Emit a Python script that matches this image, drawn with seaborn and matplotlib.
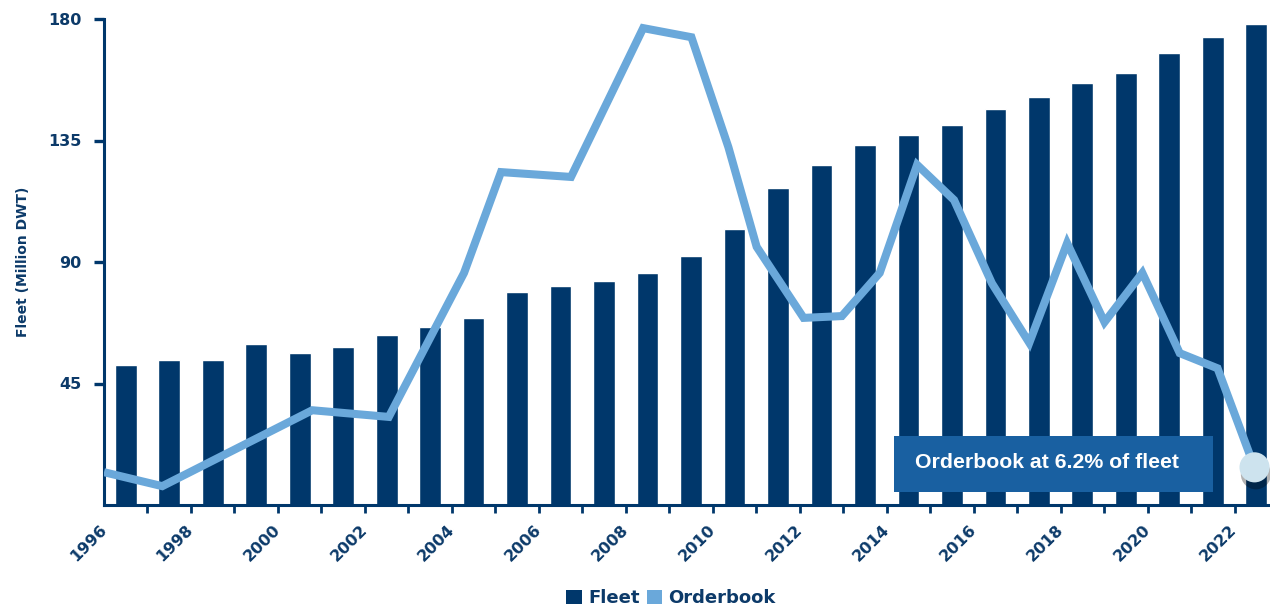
import numpy as np
import matplotlib
matplotlib.use("Agg")
import matplotlib.pyplot as plt
import matplotlib.patheffects as pe
from matplotlib.patches import Rectangle, Patch
import seaborn as sns

# Fleet size by year (million DWT)
years = list(range(1996, 2023))
fleet = [51.9, 53.7, 53.7, 59.6, 56.3, 58.5, 63.0, 65.9, 69.3, 78.9,
         81.1, 83.0, 85.9, 92.2, 102.2, 117.4, 125.9, 133.3, 137.0, 140.8,
         146.7, 151.1, 156.3, 160.0, 167.4, 173.3, 178.2]

# Orderbook as % of fleet (secondary, unlabelled scale 0-80 %)
ob_time = [1996.0, 1997.34, 2000.79, 2002.55, 2004.28, 2005.13, 2006.74,
           2008.40, 2009.51, 2010.36, 2011.01, 2012.09, 2012.97, 2013.84,
           2014.70, 2015.55, 2016.42, 2017.28, 2018.15, 2019.01, 2019.88,
           2020.74, 2021.61, 2022.46]
ob_pct = [5.4, 3.1, 15.6, 14.5, 38.2, 54.8, 54.0, 78.5, 77.0, 58.9, 42.5,
          30.8, 31.1, 38.2, 56.0, 50.2, 36.5, 26.7, 43.1, 30.1, 38.2, 25.0,
          22.5, 6.2]

y_ticks = [45, 90, 135, 180]
x_label_years = list(range(1996, 2023, 2))
note_text = "Orderbook at 6.2% of fleet"

NAVY = "#00376b"
LIGHT = "#6aa8da"
BOX = "#1960a1"
DOT = "#cde3ee"
TXT = "#0c3a69"

sns.set_theme(style="white")
plt.rcParams["font.family"] = ["DejaVu Sans"]

fig = plt.figure(figsize=(12.70, 6.08), dpi=100)
ax = fig.add_axes([104 / 1270, 1 - 505 / 608, (1268 - 104) / 1270, (505 - 19) / 608])

bar_pos = [y + 0.5 for y in years]
sns.barplot(x=bar_pos, y=fleet, native_scale=True, width=0.5, color=NAVY,
            saturation=1, errorbar=None, ax=ax, zorder=2)

ax.set_xlim(1996.0, 2022.77)
ax.set_ylim(0, 180)
ax.set_yticks(y_ticks)
ax.set_yticklabels([str(v) for v in y_ticks], fontsize=11.5, fontweight="bold", color=TXT)
ax.set_xticks(years)
ax.set_xticklabels([str(y) if y in x_label_years else "" for y in years],
                   fontsize=11.5, fontweight="bold", color=TXT,
                   rotation=45, ha="right", va="center", rotation_mode="anchor")
ax.tick_params(axis="x", length=6, width=2, color=NAVY, pad=10, direction="out", bottom=True)
ax.tick_params(axis="y", length=7, width=2.4, color=NAVY, pad=9, direction="out", left=True)
ax.xaxis.get_major_ticks()[0].tick1line.set_visible(False)
ax.set_xlabel("")
ax.set_ylabel("Fleet (Million DWT)", fontsize=10, fontweight="bold", color=TXT, labelpad=13)
for side in ("top", "right"):
    ax.spines[side].set_visible(False)
for side in ("left", "bottom"):
    ax.spines[side].set_color(NAVY)
    ax.spines[side].set_linewidth(2.2)
ax.grid(False)

# Orderbook line on its own hidden scale
ax2 = ax.twinx()
ax2.set_ylim(0, 80)
sns.lineplot(x=ob_time, y=ob_pct, sort=False, color=LIGHT, lw=5.8, ax=ax2,
             solid_joinstyle="miter", solid_capstyle="butt", zorder=3)
ax2.scatter([ob_time[-1]], [ob_pct[-1]], s=470, color=DOT, edgecolor="none",
            zorder=5, clip_on=False,
            path_effects=[pe.SimplePatchShadow(offset=(1, -5), shadow_rgbFace="black", alpha=0.3),
                          pe.Normal()])
ax2.set_axis_off()

# Callout box
ax2.add_patch(Rectangle(((894 - 104) / 1164, (505 - 492) / 486),
                        (1213 - 894) / 1164, (492 - 436) / 486,
                        transform=ax2.transAxes, facecolor=BOX, edgecolor="none", zorder=4))
ax2.text((915 - 104) / 1164, (505 - 463) / 486, note_text, transform=ax2.transAxes,
         ha="left", va="center", color="white", fontsize=15.3, fontweight="bold",
         family=["Liberation Sans", "DejaVu Sans"], zorder=6)

# Legend
handles = [Patch(facecolor=NAVY, edgecolor="none", label="Fleet"),
           Patch(facecolor=LIGHT, edgecolor="none", label="Orderbook")]
leg = fig.legend(handles=handles, loc="center", bbox_to_anchor=(671 / 1270, 1 - 598 / 608),
                 ncol=2, frameon=False, handlelength=0.85, handleheight=0.85,
                 handletextpad=0.35, columnspacing=0.4, borderaxespad=0, borderpad=0,
                 prop={"weight": "bold", "size": 13})
for t in leg.get_texts():
    t.set_color(TXT)

fig.savefig("out.png", dpi=100)
